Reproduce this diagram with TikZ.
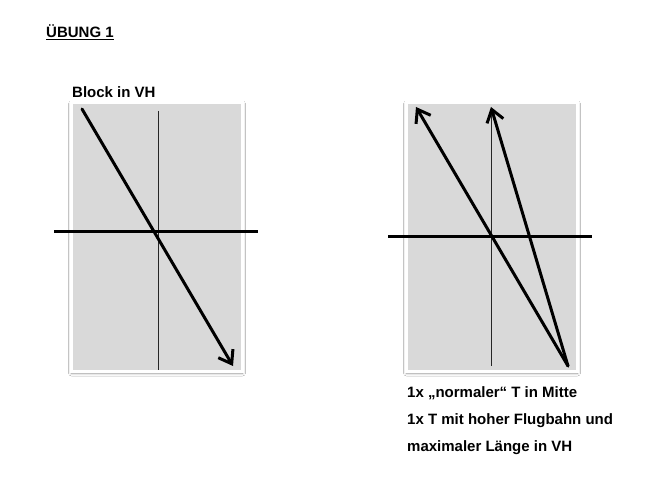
\documentclass[tikz,border=0pt]{standalone}
\usepackage{fontspec}
\setmainfont{Liberation Sans}
\usepackage{xcolor}
\usetikzlibrary{arrows.meta, positioning, shadows, shadows.blur}
\definecolor{feldgrau}{RGB}{217,217,217}

\begin{document}
\begin{tikzpicture}[
    x=1pt, y=-1pt,
    font=\bfseries\fontsize{15}{18}\selectfont,
    feld/.style={draw=white, line width=3pt, fill=feldgrau, inner sep=0pt, minimum width=171pt, minimum height=269pt, blur shadow={shadow xshift=0pt, shadow yshift=-1.5pt, shadow blur radius=3pt, shadow opacity=40}},
    mittellinie/.style={line width=0.8pt, black!85},
    grundlinie/.style={line width=3pt},
    pfeil/.style={-{Straight Barb[length=12pt, width=17pt, line width=3pt]}, line width=3pt, line cap=round}
]
\useasboundingbox[fill=white] (0,0) rectangle (654,500);

% Nodes
\node[anchor=base west, inner sep=0pt] (titel) at (46,38) {\underline{ÜBUNG 1}};
\node[anchor=base west, inner sep=0pt] (blocktext) at (72,98) {Block in VH};
\node[feld] (feldL) at (157,237) {};
\node[feld] (feldR) at (492,237) {};
\node[anchor=north west, inner sep=0pt, align=left, font=\bfseries\fontsize{15}{27}\selectfont] (erklaerung) at (407,386)
  {1x „normaler“ T in Mitte\\1x T mit hoher Flugbahn und\\maximaler Länge in VH};

% Coordinates
\coordinate (mitteLo) at (158,111);
\coordinate (mitteLu) at (158,370);
\coordinate (linieLa) at (54,232);
\coordinate (linieLb) at (258,232);
\coordinate (blockA) at (82,109);
\coordinate (blockB) at (233,366);
\coordinate (mitteRo) at (491,110);
\coordinate (mitteRu) at (491,366);
\coordinate (linieRa) at (388,237);
\coordinate (linieRb) at (592,237);
\coordinate (abwurf) at (568,366);
\coordinate (zielT) at (416,107);
\coordinate (zielH) at (491,107);

% Edges
\draw[mittellinie] (mitteLo) -- (mitteLu);
\draw[grundlinie] (linieLa) -- (linieLb);
\draw[pfeil] (blockA) -- (blockB);

\draw[mittellinie] (mitteRo) -- (mitteRu);
\draw[grundlinie] (linieRa) -- (linieRb);
\draw[pfeil] (abwurf) -- (zielT);
\draw[pfeil] (abwurf) -- (zielH);

\end{tikzpicture}
\end{document}
